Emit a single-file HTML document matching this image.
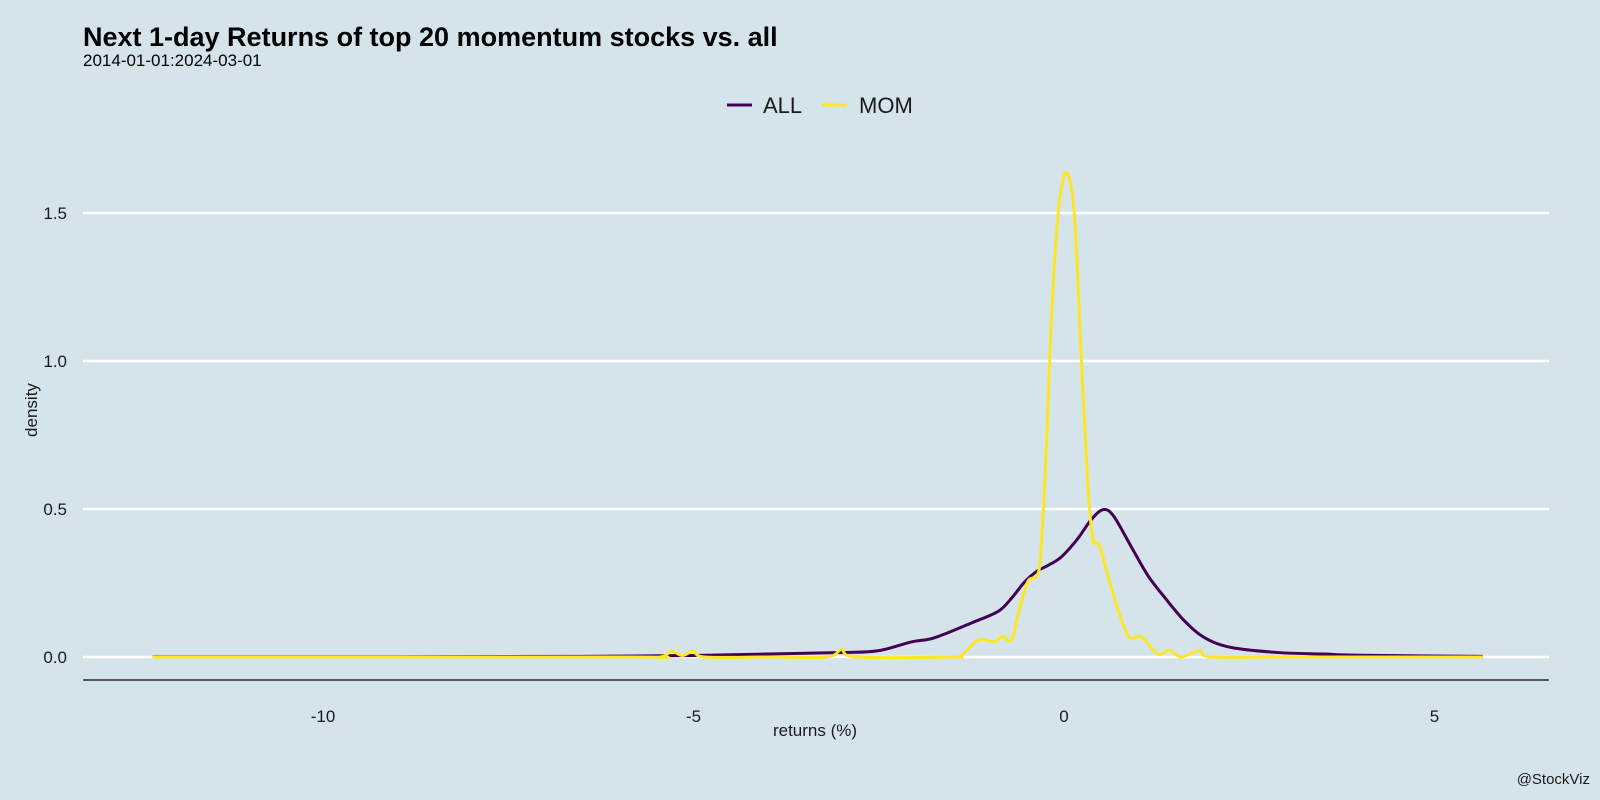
<!DOCTYPE html>
<html><head><meta charset="utf-8"><style>
body{margin:0;background:#d5e4eb;}
svg{display:block;font-family:"Liberation Sans",Arial,sans-serif;}
</style></head><body>
<svg id="chart" width="1600" height="800" viewBox="0 0 1600 800">
<rect width="1600" height="800" fill="#d5e4eb"/>
<text x="83" y="46" font-size="27" font-weight="bold" fill="#000">Next 1-day Returns of top 20 momentum stocks vs. all</text>
<text x="83" y="66" font-size="17" fill="#000">2014-01-01:2024-03-01</text>
<g>
<g><line x1="727" y1="105" x2="752" y2="105" stroke="#440154" stroke-width="3"/><text x="763" y="113" font-size="22" fill="#1a1a1a">ALL</text></g>
<g><line x1="822" y1="105" x2="847" y2="105" stroke="#fde725" stroke-width="3"/><text x="859" y="113" font-size="22" fill="#1a1a1a">MOM</text></g>
</g>
<g id="grid"></g>
<g id="yticks"></g>
<line x1="83" y1="680" x2="1549" y2="680" stroke="#000" stroke-width="1.2"/>
<g id="xticks"></g>
<g id="series"></g>
<text x="815" y="736" font-size="17" text-anchor="middle" fill="#1a1a1a">returns (%)</text>
<text transform="translate(37,410) rotate(-90)" font-size="17" text-anchor="middle" fill="#1a1a1a">density</text>
<text x="1590" y="784" font-size="15" text-anchor="end" fill="#1a1a1a">@StockViz</text>
</svg>
<script>
const yTicks=[0,0.5,1.0,1.5];
const yTickLabels=["0.0","0.5","1.0","1.5"];
const xTicks=[-10,-5,0,5];
const xTickLabels=["-10","-5","0","5"];
const allX=[-12.3,-9,-6.5,-5,-4,-3,-2.51,-2.06,-1.75,-1.25,-0.89,-0.71,-0.53,-0.37,-0.22,-0.04,0.18,0.37,0.53,0.67,0.9,1.13,1.35,1.63,1.9,2.26,2.89,3.5,4.0,5.65];
const allY=[0.001,0.001,0.002,0.005,0.01,0.015,0.021,0.051,0.065,0.115,0.154,0.198,0.254,0.289,0.309,0.337,0.398,0.465,0.498,0.476,0.376,0.276,0.204,0.121,0.065,0.032,0.015,0.01,0.006,0.002];
const momX=[-12.3,-6,-5.45,-5.3,-5.15,-5.0,-4.85,-4.0,-3.2,-3.0,-2.8,-1.5,-1.39,-1.16,-0.94,-0.83,-0.71,-0.62,-0.49,-0.36,-0.31,-0.24,-0.17,-0.08,0.03,0.14,0.23,0.32,0.39,0.48,0.64,0.86,1.04,1.27,1.42,1.58,1.83,1.99,3,5.65];
const momY=[0,0,0,0.02,0.005,0.02,0,0,0,0.025,0,0,0.004,0.057,0.052,0.069,0.057,0.143,0.254,0.276,0.365,0.697,1.14,1.495,1.637,1.495,1.03,0.587,0.398,0.376,0.232,0.074,0.068,0.01,0.023,0,0.021,0,0,0];
const sx=v=>1064+74.1*v, sy=v=>657-296*v;
const NS="http://www.w3.org/2000/svg";
const grid=document.getElementById('grid'),yt=document.getElementById('yticks'),xt=document.getElementById('xticks'),ser=document.getElementById('series');
yTicks.forEach((t,i)=>{
const l=document.createElementNS(NS,'line');
l.setAttribute('x1',83);l.setAttribute('x2',1549);l.setAttribute('y1',sy(t));l.setAttribute('y2',sy(t));
l.setAttribute('stroke','#fff');l.setAttribute('stroke-width','2.5');


grid.appendChild(l);
const tx=document.createElementNS(NS,'text');
tx.setAttribute('x',67);tx.setAttribute('y',sy(t)+6);tx.setAttribute('text-anchor','end');tx.setAttribute('font-size','17');tx.setAttribute('fill','#1a1a1a');
tx.textContent=yTickLabels[i];


yt.appendChild(tx);});
xTicks.forEach((t,i)=>{
const tx=document.createElementNS(NS,'text');
tx.setAttribute('x',sx(t));tx.setAttribute('y',722);tx.setAttribute('text-anchor','middle');tx.setAttribute('font-size','17');tx.setAttribute('fill','#1a1a1a');
tx.textContent=xTickLabels[i];


xt.appendChild(tx);});
function pathFor(xs,ys){
const p=xs.map((x,i)=>[sx(x),sy(ys[i])]);
let d='M'+p[0][0]+','+p[0][1];
for(let i=0;i<p.length-1;i++){
const p0=p[Math.max(0,i-1)],p1=p[i],p2=p[i+1],p3=p[Math.min(p.length-1,i+2)];
const c1=[p1[0]+(p2[0]-p0[0])/6,p1[1]+(p2[1]-p0[1])/6];
const c2=[p2[0]-(p3[0]-p1[0])/6,p2[1]-(p3[1]-p1[1])/6];
d+=` C${c1[0]},${c1[1]} ${c2[0]},${c2[1]} ${p2[0]},${p2[1]}`;}
return d;}
const a=document.createElementNS(NS,'path');
a.setAttribute('d',pathFor(allX,allY));a.setAttribute('fill','none');a.setAttribute('stroke','#440154');a.setAttribute('stroke-width','3');


ser.appendChild(a);
const m=document.createElementNS(NS,'path');
m.setAttribute('d',pathFor(momX,momY));m.setAttribute('fill','none');m.setAttribute('stroke','#fde725');m.setAttribute('stroke-width','3');


ser.appendChild(m);
</script>
</body></html>
